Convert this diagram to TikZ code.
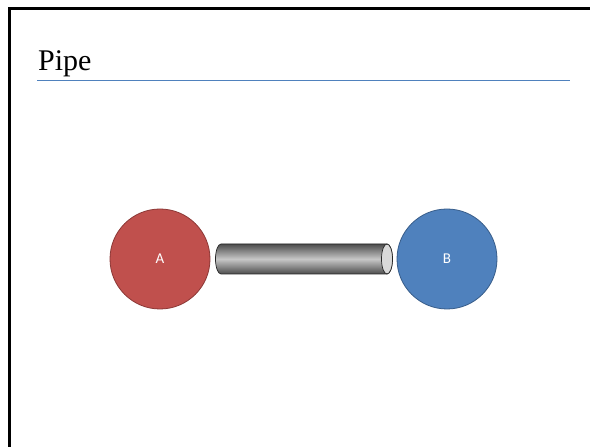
\documentclass[tikz,border=0pt]{standalone}
\usepackage{fontspec}
\setmainfont{Liberation Serif}
\newfontfamily\labelfont{Carlito}
\definecolor{redfill}{HTML}{C0504D}
\definecolor{redline}{HTML}{8C3836}
\definecolor{bluefill}{HTML}{4F81BD}
\definecolor{blueline}{HTML}{385D8A}
\definecolor{rulecol}{HTML}{4F81BD}
\begin{document}
\begin{tikzpicture}[x=1pt,y=1pt,
  ball/.style={circle,minimum size=100pt,inner sep=0pt,line width=0.8pt,text=white,font=\labelfont\fontsize{15}{17}\selectfont},
  pipebody/.style={draw=black!85,line width=0.7pt,top color=black!70,bottom color=black!70,middle color=black!22,shading angle=0},
  pipeend/.style={draw=black!85,line width=0.7pt,fill=black!15}]
\useasboundingbox (0,0) rectangle (590,447);
\fill[white] (0,0) rectangle (590,447);
\draw[line width=3pt] (9,0) -- (9,438) -- (590,438);
\draw[rulecol,line width=1pt] (37,366) -- (570,366);
\node[anchor=base west,inner sep=0pt,font=\fontsize{30}{33}\selectfont] (title) at (38,376) {Pipe};
\node[ball,fill=redfill,draw=redline] (A) at (160,188) {A};
\node[ball,fill=bluefill,draw=blueline] (B) at (447,188) {B};
\coordinate (pl) at (221,188);
\coordinate (pr) at (387,188);
\path[pipebody] (387,203) -- (221,203) arc[start angle=90,end angle=270,x radius=5.5,y radius=15] -- (387,173) arc[start angle=-90,end angle=90,x radius=5.5,y radius=15] -- cycle;
\path[pipeend] (pr) ellipse[x radius=5.5,y radius=15];
\end{tikzpicture}
\end{document}
